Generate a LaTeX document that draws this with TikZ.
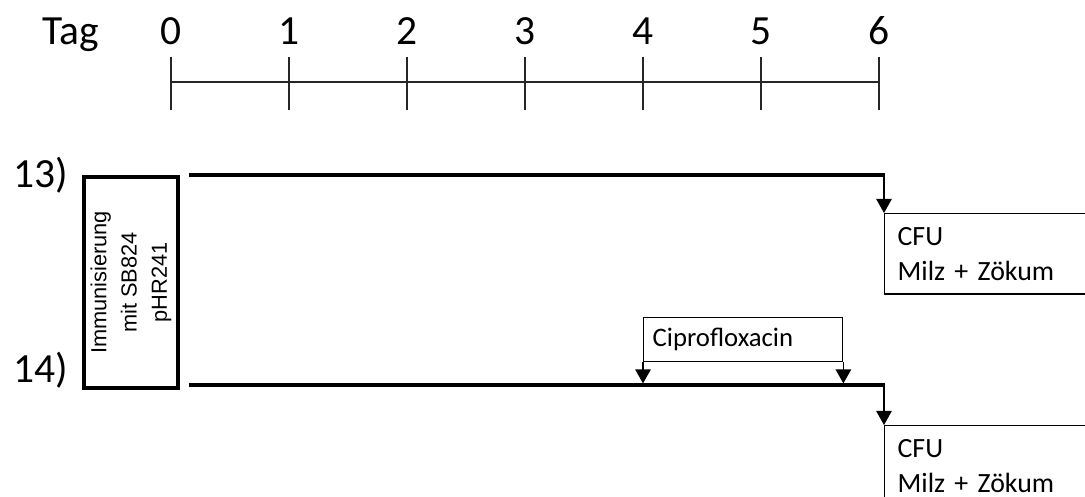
\documentclass[tikz,border=0pt]{standalone}
\usepackage{fontspec}
\setmainfont{Carlito}
\newfontfamily\arialfont{Liberation Sans}
\usepackage{tikz}
\usetikzlibrary{arrows.meta, positioning}
\tikzset{
  bigtxt/.style={font=\fontsize{29.5}{34}\selectfont, inner sep=0pt},
  axis/.style={line width=1pt, color=black!85},
  hline/.style={line width=2.8pt, line cap=rect},
  arrow/.style={-{Triangle[width=11pt, length=10pt]}, line width=1pt},
  immbox/.style={rectangle, draw, line width=3pt, rotate=90,
    minimum width=150pt, minimum height=67pt, align=center,
    font=\arialfont\fontsize{15.5}{21.5}\selectfont},
  cfubox/.style={rectangle, draw, line width=1pt, anchor=north west,
    text width=138pt, inner xsep=9.2pt, minimum height=57pt, align=left,
    font=\fontsize{19.8}{25}\selectfont},
  cipbox/.style={rectangle, draw, line width=1pt, anchor=north west,
    text width=128.7pt, inner xsep=6.4pt, minimum height=31.3pt, align=left,
    font=\fontsize{19}{23}\selectfont}
}

\begin{document}
\begin{tikzpicture}[x=0.025cm, y=-0.025cm]
  \clip (0,0) rectangle (1085,497);

  % Time axis
  \node[bigtxt, anchor=base] (tag) at (71,45) {Tag};
  \foreach \d in {0,...,6} {
    \node[bigtxt, anchor=base] (d\d) at ({171+118*\d},45) {\d};
    \coordinate (tt\d) at ({171+118*\d},57);
    \coordinate (tb\d) at ({171+118*\d},110);
    \draw[axis] (tt\d) -- (tb\d);
  }
  \draw[axis] (171,82) -- (879,82);

  % Nodes
  \node[bigtxt, anchor=base west] (g13) at (13,188) {13)};
  \node[bigtxt, anchor=base west] (g14) at (13,383) {14)};
  \node[immbox] (imm) at (131,282.5) {Immunisierung\\mit SB824\\pHR241};

  \coordinate (s13) at (191,175);
  \coordinate (e13) at (883,175);
  \coordinate (s14) at (191,385);
  \coordinate (e14) at (883,385);

  \node[cfubox] (cfu13) at (884,213) {CFU\\Milz + Zökum};
  \node[cfubox] (cfu14) at (884,425) {CFU\\Milz + Zökum};
  \node[cipbox] (cip) at (643,317) {Ciprofloxacin};

  % Arrows
  \draw[hline] (s13) -- (e13);
  \draw[hline] (s14) -- (e14);
  \draw[arrow] (884,175) -- (cfu13.north west);
  \draw[arrow] (884,385) -- (cfu14.north west);
  \draw[arrow] (cip.south west) -- ++(0,21);
  \draw[arrow] (cip.south east) -- ++(0,21);

\end{tikzpicture}
\end{document}
